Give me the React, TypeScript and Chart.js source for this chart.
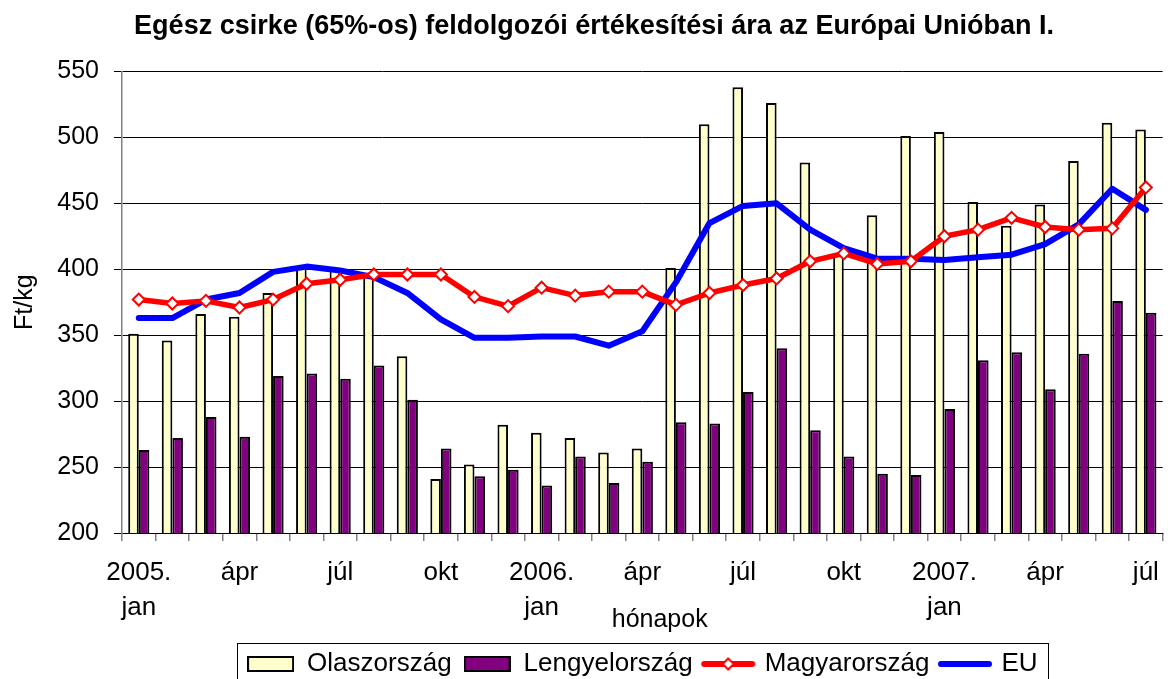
import React, { useEffect, useRef } from "react";
import { Chart, registerables } from "chart.js";

Chart.register(...registerables);

const months: string[] = [
  "2005. jan", "2005. febr", "2005. márc", "2005. ápr", "2005. máj", "2005. jún",
  "2005. júl", "2005. aug", "2005. szept", "2005. okt", "2005. nov", "2005. dec",
  "2006. jan", "2006. febr", "2006. márc", "2006. ápr", "2006. máj", "2006. jún",
  "2006. júl", "2006. aug", "2006. szept", "2006. okt", "2006. nov", "2006. dec",
  "2007. jan", "2007. febr", "2007. márc", "2007. ápr", "2007. máj", "2007. jún",
  "2007. júl",
];

const tickLabels: (string | string[])[] = [
  ["2005.", "jan"], "", "", "ápr", "", "", "júl", "", "", "okt", "", "",
  ["2006.", "jan"], "", "", "ápr", "", "", "júl", "", "", "okt", "", "",
  ["2007.", "jan"], "", "", "ápr", "", "", "júl",
];

const olaszorszag: number[] = [
  351, 346, 366, 364, 382, 402, 400, 395, 334, 241, 252, 282,
  276, 272, 261, 264, 401, 510, 538, 526, 481, 412, 441, 501,
  504, 451, 433, 449, 482, 511, 506,
];

const lengyelorszag: number[] = [
  263, 272, 288, 273, 319, 321, 317, 327, 301, 264, 243, 248,
  236, 258, 238, 254, 284, 283, 307, 340, 278, 258, 245, 244,
  294, 331, 337, 309, 336, 376, 367,
];

const magyarorszag: number[] = [
  377, 374, 376, 371, 377, 389, 392, 396, 396, 396, 379, 372,
  386, 380, 383, 383, 373, 382, 388, 393, 406, 412, 404, 406,
  425, 430, 439, 432, 430, 431, 462,
];

const eu: number[] = [
  363, 363, 377, 382, 398, 402, 399, 394, 382, 362, 348, 348,
  349, 349, 342, 353, 390, 435, 448, 450, 430, 416, 408, 408,
  407, 409, 411, 419, 434, 461, 445,
];

const yTicks: number[] = [200, 250, 300, 350, 400, 450, 500, 550];

const seriesNames = ["Olaszország", "Lengyelország", "Magyarország", "EU"];

const FONT = "'Liberation Sans', Arial, sans-serif";

function makeBoxIcon(fill: string): HTMLCanvasElement {
  const c = document.createElement("canvas");
  c.width = 47;
  c.height = 16;
  const g = c.getContext("2d")!;
  g.fillStyle = fill;
  g.fillRect(1, 1, 45, 14);
  g.strokeStyle = "#000";
  g.lineWidth = 2;
  g.strokeRect(1, 1, 45, 14);
  return c;
}

function makeLineIcon(color: string, diamond: boolean): HTMLCanvasElement {
  const c = document.createElement("canvas");
  c.width = 56;
  c.height = 16;
  const g = c.getContext("2d")!;
  g.strokeStyle = color;
  g.lineWidth = 6;
  g.lineCap = "round";
  g.beginPath();
  g.moveTo(4, 8);
  g.lineTo(52, 8);
  g.stroke();
  if (diamond) {
    g.beginPath();
    g.moveTo(28, 2.5);
    g.lineTo(33.5, 8);
    g.lineTo(28, 13.5);
    g.lineTo(22.5, 8);
    g.closePath();
    g.fillStyle = "#fff";
    g.fill();
    g.lineWidth = 2;
    g.stroke();
  }
  return c;
}

const legendBorder = {
  id: "legendBorder",
  afterDraw(chart: any) {
    const lg = chart.legend;
    if (!lg || !lg.legendHitBoxes || !lg.legendHitBoxes.length) return;
    const hb = lg.legendHitBoxes;
    const left = Math.min(...hb.map((h: any) => h.left)) - 10;
    const right = Math.max(...hb.map((h: any) => h.left + h.width)) + 11;
    const cy = hb[0].top + hb[0].height / 2;
    const top = cy - 21;
    const ctx = chart.ctx;
    ctx.save();
    ctx.strokeStyle = "#000";
    ctx.lineWidth = 1;
    ctx.strokeRect(Math.round(left) + 0.5, Math.round(top) + 0.5, Math.round(right - left), 60);
    ctx.restore();
  },
};

export default function App() {
  const ref = useRef<HTMLCanvasElement | null>(null);

  useEffect(() => {
    if (!ref.current) return;
    const icons = [
      makeBoxIcon("#FFFFCC"),
      makeBoxIcon("#800080"),
      makeLineIcon("#FF0000", true),
      makeLineIcon("#0000FF", false),
    ];
    const chart = new Chart(ref.current, {
      type: "bar",
      data: {
        labels: months,
        datasets: [
          {
            type: "bar",
            label: seriesNames[0],
            data: olaszorszag,
            backgroundColor: "#FFFFCC",
            borderColor: "#000000",
            borderWidth: 2,
            order: 3,
          },
          {
            type: "bar",
            label: seriesNames[1],
            data: lengyelorszag,
            backgroundColor: "#800080",
            borderColor: "#000000",
            borderWidth: 2,
            order: 3,
          },
          {
            type: "line",
            label: seriesNames[2],
            data: magyarorszag,
            borderColor: "#FF0000",
            borderWidth: 5.5,
            pointStyle: "rectRot",
            pointRadius: 6,
            pointBackgroundColor: "#FFFFFF",
            pointBorderColor: "#FF0000",
            pointBorderWidth: 2,
            tension: 0,
            borderJoinStyle: "round",
            order: 1,
          },
          {
            type: "line",
            label: seriesNames[3],
            data: eu,
            borderColor: "#0000FF",
            borderWidth: 6,
            pointRadius: 0,
            tension: 0,
            borderJoinStyle: "round",
            borderCapStyle: "round",
            order: 2,
          },
        ] as any,
      },
      options: {
        responsive: false,
        animation: false,
        devicePixelRatio: 1,
        layout: { padding: 0 },
        datasets: {
          bar: { categoryPercentage: 0.63, barPercentage: 1 },
        } as any,
        plugins: {
          title: {
            display: true,
            text: "  Egész csirke (65%-os) feldolgozói értékesítési ára az Európai Unióban I.",
            color: "#000",
            font: { family: FONT, size: 27, weight: "bold", lineHeight: 1.2 },
            padding: { top: 10, bottom: 29 },
          },
          legend: {
            display: true,
            position: "bottom",
            fullSize: false,
            labels: {
              color: "#000",
              font: { family: FONT, size: 26 },
              usePointStyle: true,
              pointStyleWidth: 47,
              boxHeight: 16,
              padding: 12,
              generateLabels: () =>
                seriesNames.map((name, i) => ({
                  text: name,
                  fillStyle: "#fff",
                  strokeStyle: "#fff",
                  lineWidth: 0,
                  pointStyle: icons[i],
                  hidden: false,
                  datasetIndex: i,
                  fontColor: "#000",
                })) as any,
            },
          },
          tooltip: { enabled: false },
        },
        scales: {
          x: {
            offset: true,
            afterFit: (scale: any) => {
              scale.height = 106;
            },
            grid: {
              offset: true,
              drawOnChartArea: false,
              drawTicks: true,
              tickLength: 8,
              color: "#808080",
              lineWidth: 1.5,
            },
            border: { display: true, color: "#000", width: 1 },
            ticks: {
              autoSkip: false,
              maxRotation: 0,
              minRotation: 0,
              padding: 14,
              color: "#000",
              font: { family: FONT, size: 26, lineHeight: 1.35 },
              callback: (_v: any, i: number) => tickLabels[i],
            },
            title: {
              display: true,
              text: "     hónapok",
              color: "#000",
              font: { family: FONT, size: 25, lineHeight: 1.2 },
              padding: { top: 0, bottom: 4 },
            },
          },
          y: {
            min: 200,
            max: 550,
            afterFit: (scale: any) => {
              scale.width = 122;
            },
            afterBuildTicks: (scale: any) => {
              scale.ticks = yTicks.map((v) => ({ value: v }));
            },
            grid: {
              color: "#000",
              lineWidth: 1,
              drawTicks: true,
              tickLength: 8,
              tickColor: "#000",
            },
            border: { display: true, color: "#808080", width: 1.5 },
            ticks: {
              padding: 15,
              color: "#000",
              font: { family: FONT, size: 25, lineHeight: 1.2 },
            },
            title: {
              display: true,
              text: "Ft/kg",
              color: "#000",
              font: { family: FONT, size: 25, lineHeight: 1.2 },
              padding: { top: 10, bottom: 0 },
            },
          },
        },
      },
      plugins: [legendBorder],
    });
    return () => chart.destroy();
  }, []);

  return (
    <div
      style={{
        position: "absolute",
        left: 0,
        top: 0,
        width: 1173,
        height: 679,
        overflow: "hidden",
        background: "#fff",
      }}
    >
      <canvas ref={ref} width={1173} height={687} style={{ display: "block" }} />
    </div>
  );
}
